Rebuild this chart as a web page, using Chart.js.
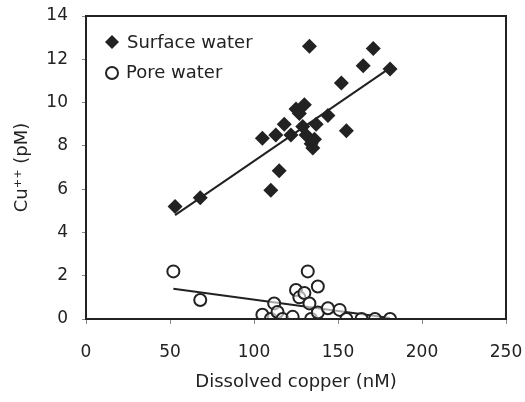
<!DOCTYPE html>
<html>
<head>
<meta charset="utf-8">
<script src="https://cdn.jsdelivr.net/npm/chart.js@4"></script>
<style>
  html, body { margin: 0; padding: 0; background: #fff; }
  #wrap { width: 525px; height: 402px; }
</style>
</head>
<body>
<div id="wrap"><canvas id="grafico" width="525" height="402"></canvas></div>
<script>
// Dados
var surfaceX = [53, 68, 105, 110, 113, 115, 118, 122, 125, 127, 129, 130, 131, 133, 134, 135, 136, 137, 144, 152, 155, 165, 171, 181];
var surfaceY = [5.2, 5.6, 8.35, 5.95, 8.5, 6.85, 9.0, 8.5, 9.7, 9.5, 8.9, 9.9, 8.5, 12.6, 8.1, 7.9, 8.3, 9.0, 9.4, 10.9, 8.7, 11.7, 12.5, 11.55];

var poreX = [52, 68, 105, 110, 112, 114, 117, 123, 125, 127, 130, 132, 133, 134, 138, 138, 144, 151, 155, 164, 172, 181];
var poreY = [2.2, 0.88, 0.2, 0.0, 0.72, 0.32, 0.0, 0.1, 1.34, 1.0, 1.2, 2.2, 0.72, 0.0, 1.5, 0.3, 0.5, 0.42, 0.0, 0.0, 0.0, 0.0];

// Linhas de tendência (extremos)
var surfaceFitX = [53, 181];
var surfaceFitY = [4.8, 11.6];
var poreFitX = [52, 181];
var poreFitY = [1.4, 0.05];

var xTicks = [0, 50, 100, 150, 200, 250];
var yTicks = [0, 2, 4, 6, 8, 10, 12, 14];

var legendLabels = ['Surface water', 'Pore water'];

function pontos(xs, ys) {
    return xs.map(function (x, i) { return { x: x, y: ys[i] }; });
}

var fonte = 'DejaVu Sans';
var corTexto = '#222';

// Moldura e legenda dentro da área do gráfico
var molduraPlugin = {
    id: 'moldura',
    afterDraw: function (chart) {
        var a = chart.chartArea;
        var ctx = chart.ctx;
        ctx.save();
        ctx.strokeStyle = '#222';
        ctx.lineWidth = 2;
        ctx.strokeRect(a.left, a.top, a.right - a.left, a.bottom - a.top);

        // legenda
        ctx.font = '18px "' + fonte + '"';
        ctx.fillStyle = corTexto;
        ctx.textBaseline = 'middle';
        ctx.textAlign = 'left';
        // diamante
        ctx.beginPath();
        ctx.moveTo(112, 35); ctx.lineTo(119, 42); ctx.lineTo(112, 49); ctx.lineTo(105, 42);
        ctx.closePath();
        ctx.fill();
        ctx.fillText(legendLabels[0], 127, 43);
        // círculo
        ctx.beginPath();
        ctx.arc(112, 73, 6, 0, Math.PI * 2);
        ctx.lineWidth = 2;
        ctx.stroke();
        ctx.fillText(legendLabels[1], 126, 73);
        ctx.restore();
    }
};

var ctx = document.getElementById('grafico').getContext('2d');
var myChart = new Chart(ctx, {
    type: 'scatter',
    data: {
        datasets: [
            {
                label: legendLabels[0],
                data: pontos(surfaceX, surfaceY),
                pointStyle: 'rectRot',
                pointRadius: 7.5,
                backgroundColor: '#222',
                borderColor: '#222',
                borderWidth: 0
            },
            {
                label: legendLabels[1],
                data: pontos(poreX, poreY),
                pointStyle: 'circle',
                pointRadius: 6,
                backgroundColor: 'rgba(255,255,255,0.6)',
                borderColor: '#222',
                borderWidth: 2
            },
            {
                label: 'fit1',
                data: pontos(surfaceFitX, surfaceFitY),
                showLine: true,
                pointRadius: 0,
                borderColor: '#222',
                borderWidth: 2
            },
            {
                label: 'fit2',
                data: pontos(poreFitX, poreFitY),
                showLine: true,
                pointRadius: 0,
                borderColor: '#222',
                borderWidth: 2
            }
        ]
    },
    options: {
        responsive: false,
        animation: false,
        layout: { padding: { top: 16, right: 19, left: 0, bottom: 0 } },
        plugins: {
            legend: { display: false },
            tooltip: { enabled: false }
        },
        scales: {
            x: {
                type: 'linear',
                min: 0,
                max: 250,
                afterBuildTicks: function (scale) {
                    scale.ticks = xTicks.map(function (v) { return { value: v }; });
                },
                afterFit: function (scale) {
                    scale.height = 83;
                    scale.paddingLeft = 0;
                    scale.paddingRight = 0;
                },
                grid: { drawOnChartArea: false, tickLength: 5, color: '#888' },
                border: { display: true, color: '#222', width: 2 },
                ticks: { color: corTexto, padding: 18, font: { family: fonte, size: 17 } },
                title: {
                    display: true,
                    text: 'Dissolved copper (nM)',
                    color: corTexto,
                    font: { family: fonte, size: 18 },
                    padding: { top: 0, bottom: 9 }
                }
            },
            y: {
                type: 'linear',
                min: 0,
                max: 14,
                afterBuildTicks: function (scale) {
                    scale.ticks = yTicks.map(function (v) { return { value: v }; });
                },
                afterFit: function (scale) {
                    scale.width = 86;
                    scale.paddingTop = 0;
                    scale.paddingBottom = 0;
                },
                grid: { drawOnChartArea: false, tickLength: 4, color: '#888' },
                border: { display: true, color: '#222', width: 2 },
                ticks: { color: corTexto, padding: 14, font: { family: fonte, size: 17 } },
                title: {
                    display: true,
                    text: 'Cu\u207A\u207A (pM)',
                    color: corTexto,
                    font: { family: fonte, size: 18 },
                    padding: { top: 12, bottom: 0 }
                }
            }
        }
    },
    plugins: [molduraPlugin]
});
</script>
</body>
</html>
